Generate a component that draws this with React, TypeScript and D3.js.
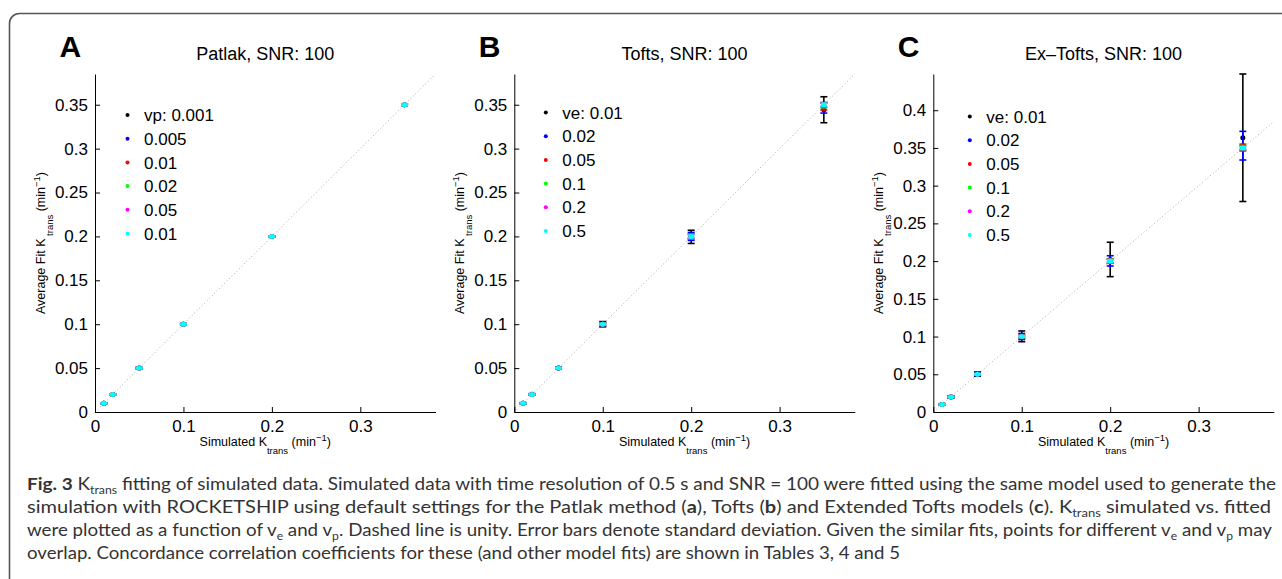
import React, { useEffect, useRef } from 'react';
import * as d3 from 'd3';

// simulated Ktrans values (x) shared by all three panels
const kTrans = [0.01, 0.02, 0.05, 0.1, 0.2, 0.35];
const seriesColors = ['#000000', '#0000ff', '#ff0000', '#00ff00', '#ff00ff', '#00ffff'];

const panelLetters = ['A', 'B', 'C'];
const panelTitles = ['Patlak, SNR: 100', 'Tofts, SNR: 100', 'Ex\u2013Tofts, SNR: 100'];
const vpLabels = ['vp: 0.001', '0.005', '0.01', '0.02', '0.05', '0.01'];
const veLabels = ['ve: 0.01', '0.02', '0.05', '0.1', '0.2', '0.5'];

const xTicks = [0, 0.1, 0.2, 0.3];
const yTicksAB = [0, 0.05, 0.1, 0.15, 0.2, 0.25, 0.3, 0.35];
const yTicksC = [0, 0.05, 0.1, 0.15, 0.2, 0.25, 0.3, 0.35, 0.4];
const xMax = 0.385;
const yMax = [0.385, 0.385, 0.448];

// Patlak fits: mean and sd per vp (rows) and Ktrans (cols)
const patlakMean = [
  [0.01, 0.02, 0.05, 0.1, 0.2, 0.35],
  [0.01, 0.02, 0.05, 0.1, 0.2, 0.35],
  [0.01, 0.02, 0.05, 0.1, 0.2, 0.35],
  [0.01, 0.02, 0.05, 0.1, 0.2, 0.35],
  [0.01, 0.02, 0.05, 0.1, 0.2, 0.35],
  [0.01, 0.02, 0.05, 0.1, 0.2, 0.35],
];
const patlakSd = [
  [0.0005, 0.0005, 0.0006, 0.0006, 0.0007, 0.0008],
  [0.0005, 0.0005, 0.0006, 0.0006, 0.0007, 0.0008],
  [0.0005, 0.0005, 0.0006, 0.0006, 0.0007, 0.0008],
  [0.0005, 0.0005, 0.0006, 0.0006, 0.0007, 0.0008],
  [0.0005, 0.0005, 0.0006, 0.0006, 0.0007, 0.0008],
  [0.0005, 0.0005, 0.0006, 0.0006, 0.0007, 0.0008],
];

// Tofts fits, rows per ve
const toftsMean = [
  [0.0101, 0.0201, 0.0501, 0.1, 0.1995, 0.3443],
  [0.01, 0.02, 0.05, 0.1, 0.2, 0.3465],
  [0.01, 0.02, 0.05, 0.1, 0.2, 0.348],
  [0.01, 0.02, 0.05, 0.1, 0.2, 0.3492],
  [0.01, 0.02, 0.05, 0.1, 0.2, 0.3497],
  [0.01, 0.02, 0.05, 0.1, 0.2, 0.35],
];
const toftsSd = [
  [0.0006, 0.0008, 0.0012, 0.003, 0.0075, 0.0148],
  [0.0005, 0.0006, 0.001, 0.002, 0.0045, 0.006],
  [0.0004, 0.0005, 0.0008, 0.0015, 0.003, 0.004],
  [0.0004, 0.0005, 0.0007, 0.0012, 0.0025, 0.0025],
  [0.0004, 0.0005, 0.0007, 0.001, 0.002, 0.002],
  [0.0004, 0.0005, 0.0006, 0.001, 0.0015, 0.0015],
];

// Extended Tofts fits, rows per ve
const exToftsMean = [
  [0.0101, 0.0201, 0.0502, 0.1003, 0.2022, 0.3635],
  [0.01, 0.02, 0.0501, 0.1001, 0.2003, 0.353],
  [0.01, 0.02, 0.05, 0.1, 0.2, 0.3505],
  [0.01, 0.02, 0.05, 0.1, 0.2, 0.3502],
  [0.01, 0.02, 0.05, 0.1, 0.2, 0.35],
  [0.01, 0.02, 0.05, 0.1, 0.2, 0.35],
];
const exToftsSd = [
  [0.001, 0.0013, 0.0028, 0.0071, 0.0228, 0.0845],
  [0.0007, 0.001, 0.0018, 0.004, 0.0068, 0.019],
  [0.0005, 0.0007, 0.001, 0.002, 0.003, 0.0045],
  [0.0005, 0.0006, 0.0009, 0.0015, 0.0025, 0.003],
  [0.0005, 0.0006, 0.0008, 0.0012, 0.002, 0.0022],
  [0.0005, 0.0006, 0.0008, 0.001, 0.0015, 0.0015],
];

const panelMeans = [patlakMean, toftsMean, exToftsMean];
const panelSds = [patlakSd, toftsSd, exToftsSd];
const panelLegends = [vpLabels, veLabels, veLabels];
const panelYTicks = [yTicksAB, yTicksAB, yTicksC];

// caption text, split into runs (b = bold, sub = subscript)
type Run = { t: string; b?: boolean; sub?: boolean };
const captionLines: Run[][] = [
  [
    { t: 'Fig. 3', b: true },
    { t: ' K' },
    { t: 'trans', sub: true },
    { t: ' fitting of simulated data. Simulated data with time resolution of 0.5 s and SNR = 100 were fitted using the same model used to generate the' },
  ],
  [
    { t: 'simulation with ROCKETSHIP using default settings for the Patlak method (' },
    { t: 'a', b: true },
    { t: '), Tofts (' },
    { t: 'b', b: true },
    { t: ') and Extended Tofts models (' },
    { t: 'c', b: true },
    { t: '). K' },
    { t: 'trans', sub: true },
    { t: ' simulated vs. fitted' },
  ],
  [
    { t: 'were plotted as a function of v' },
    { t: 'e', sub: true },
    { t: ' and v' },
    { t: 'p', sub: true },
    { t: '. Dashed line is unity. Error bars denote standard deviation. Given the similar fits, points for different v' },
    { t: 'e', sub: true },
    { t: ' and v' },
    { t: 'p', sub: true },
    { t: ' may' },
  ],
  [
    { t: 'overlap. Concordance correlation coefficients for these (and other model fits) are shown in Tables 3, 4 and 5' },
  ],
];
const captionY = [490, 513, 536, 559];
const captionLen = [1249, 1244, 1245, 873];

const W = 1282;
const H = 579;
const panelLeft = [95, 514.3, 933.3];
const plotTop = 74;
const plotBottom = 412;
const plotWidth = 340.5;
const legendPos = [[32.5, 41], [31.5, 38.5], [36.5, 42.5]];
const rowStep = 23.7;
const chartFont = '"Liberation Sans", Arial, Helvetica, sans-serif';
const captionFont = 'Lato, "Open Sans", sans-serif';

const fmt = (d: number) => String(+d.toFixed(3));

function Panels() {
  const ref = useRef<SVGGElement>(null);

  useEffect(() => {
    const root = d3.select(ref.current);
    root.selectAll('*').remove();

    panelLetters.forEach((letter, k) => {
      const g = root.append('g').attr('transform', `translate(${panelLeft[k]},0)`);
      const x = d3.scaleLinear().domain([0, xMax]).range([0, plotWidth]);
      const y = d3.scaleLinear().domain([0, yMax[k]]).range([plotBottom, plotTop]);

      g.append('text')
        .attr('x', -35.5)
        .attr('y', 56.7)
        .attr('font-family', chartFont)
        .attr('font-weight', 'bold')
        .attr('font-size', 30)
        .text(letter);

      g.append('text')
        .attr('x', plotWidth / 2)
        .attr('y', 59.5)
        .attr('text-anchor', 'middle')
        .attr('font-family', chartFont)
        .attr('font-size', 18)
        .text(panelTitles[k]);

      // unity line
      g.append('line')
        .attr('x1', x(0))
        .attr('y1', y(0))
        .attr('x2', x(xMax))
        .attr('y2', y(xMax))
        .attr('stroke', '#a8a8a8')
        .attr('stroke-width', 1)
        .attr('stroke-dasharray', '1 2.5');

      const xAxis = g.append('g')
        .attr('transform', `translate(0,${plotBottom})`)
        .call(d3.axisBottom(x).tickValues(xTicks).tickSizeInner(-5).tickSizeOuter(0).tickPadding(8).tickFormat(fmt as any));
      const yAxis = g.append('g')
        .call(d3.axisLeft(y).tickValues(panelYTicks[k]).tickSizeInner(-5).tickSizeOuter(0).tickPadding(7).tickFormat(fmt as any));
      [xAxis, yAxis].forEach(a => {
        a.attr('font-family', chartFont).attr('font-size', 17);
        a.selectAll('text').attr('fill', '#000');
        a.selectAll('path,line').attr('stroke', '#000');
      });

      // error bars, one group per series
      const means = panelMeans[k];
      const sds = panelSds[k];
      means.forEach((row, s) => {
        const pts = row.map((m, j) => ({ kt: kTrans[j], m, sd: sds[s][j] }));
        const gs = g.append('g').attr('stroke', seriesColors[s]).attr('stroke-width', 1.6);
        gs.selectAll('line.bar').data(pts).join('line')
          .attr('x1', d => x(d.kt)).attr('x2', d => x(d.kt))
          .attr('y1', d => y(d.m - d.sd)).attr('y2', d => y(d.m + d.sd));
        gs.selectAll('line.lo').data(pts).join('line')
          .attr('x1', d => x(d.kt) - 3.5).attr('x2', d => x(d.kt) + 3.5)
          .attr('y1', d => y(d.m - d.sd)).attr('y2', d => y(d.m - d.sd));
        gs.selectAll('line.hi').data(pts).join('line')
          .attr('x1', d => x(d.kt) - 3.5).attr('x2', d => x(d.kt) + 3.5)
          .attr('y1', d => y(d.m + d.sd)).attr('y2', d => y(d.m + d.sd));
        g.append('g').selectAll('circle').data(pts).join('circle')
          .attr('cx', d => x(d.kt)).attr('cy', d => y(d.m)).attr('r', 2.5)
          .attr('fill', seriesColors[s]);
      });

      // legend
      const [lx, ly] = legendPos[k];
      const lg = g.append('g').attr('transform', `translate(${lx},${plotTop + ly})`);
      panelLegends[k].forEach((label, s) => {
        lg.append('circle').attr('cx', 0).attr('cy', s * rowStep).attr('r', 2).attr('fill', seriesColors[s]);
        lg.append('text')
          .attr('x', 16.5)
          .attr('y', s * rowStep)
          .attr('dy', '0.36em')
          .attr('font-family', chartFont)
          .attr('font-size', 17)
          .text(label);
      });

      // axis labels
      const xl = g.append('text')
        .attr('x', plotWidth / 2)
        .attr('y', 446)
        .attr('text-anchor', 'middle')
        .attr('font-family', chartFont)
        .attr('font-size', 12.5);
      xl.append('tspan').text('Simulated K');
      xl.append('tspan').attr('font-size', 9.5).attr('dy', 8).text('trans');
      xl.append('tspan').attr('dy', -8).text(' (min');
      xl.append('tspan').attr('font-size', 9.5).attr('dy', -5).text('\u22121');
      xl.append('tspan').attr('dy', 5).text(')');

      const yl = g.append('text')
        .attr('transform', `translate(-50,${(plotTop + plotBottom) / 2}) rotate(-90)`)
        .attr('text-anchor', 'middle')
        .attr('font-family', chartFont)
        .attr('font-size', 12.5);
      yl.append('tspan').text('Average Fit K');
      yl.append('tspan').attr('font-size', 9.5).attr('dy', 8).text(' trans');
      yl.append('tspan').attr('dy', -8).text(' (min');
      yl.append('tspan').attr('font-size', 9.5).attr('dy', -5).text('\u22121');
      yl.append('tspan').attr('dy', 5).text(')');
    });
  }, []);

  return <g ref={ref} />;
}

function CaptionLine({ runs, y, len }: { runs: Run[]; y: number; len: number }) {
  let shift = 0;
  return (
    <text x={27} y={y} textLength={len} lengthAdjust="spacingAndGlyphs">
      {runs.map((r, i) => {
        const target = r.sub ? 4 : 0;
        const dy = target - shift;
        shift = target;
        return (
          <tspan
            key={i}
            dy={dy !== 0 ? dy : undefined}
            fontSize={r.sub ? 11 : undefined}
            fontWeight={r.b ? 'bold' : undefined}
          >
            {r.t}
          </tspan>
        );
      })}
    </text>
  );
}

export default function App() {
  return (
    <svg
      width={W}
      height={H}
      viewBox={`0 0 ${W} ${H}`}
      style={{ position: 'absolute', left: 0, top: 0, background: '#fff' }}
    >
      <rect x={9.5} y={13.5} width={1320} height={640} rx={10} fill="none" stroke="#555" strokeWidth={1.6} />
      <Panels />
      <g fontFamily={captionFont} fontSize={17} fill="#333">
        {captionLines.map((runs, i) => (
          <CaptionLine key={i} runs={runs} y={captionY[i]} len={captionLen[i]} />
        ))}
      </g>
    </svg>
  );
}
